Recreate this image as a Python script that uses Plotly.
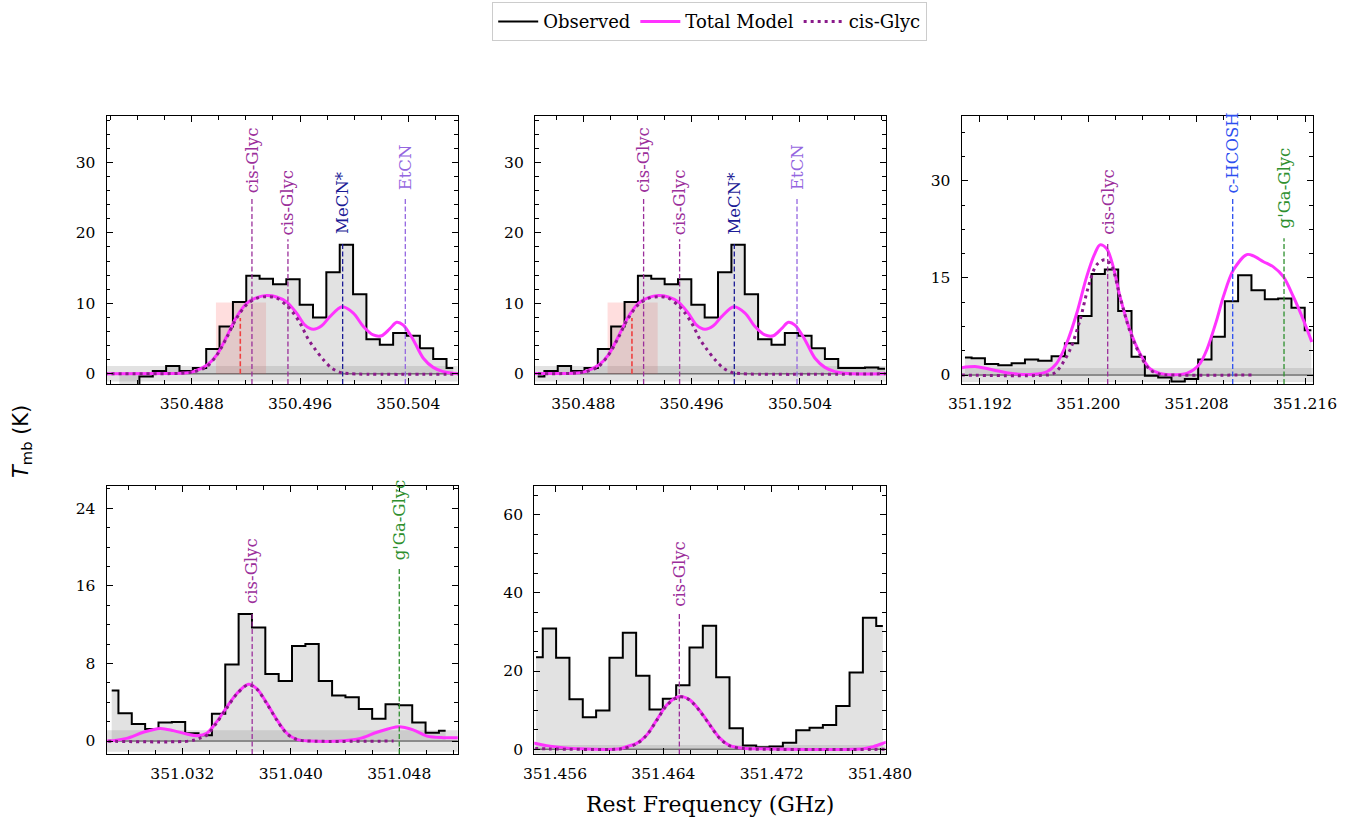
import plotly.graph_objects as go

W, H = 1356, 826

# ---------------- observed spectra (channel centre GHz, T_mb K) ----------------
# window around 350.49 GHz (shown in panels 1 and 2)
freq_A = [350.48266, 350.48364, 350.48463, 350.48562, 350.48660, 350.48759, 350.48858,
          350.48956, 350.49055, 350.49154, 350.49252, 350.49351, 350.49450, 350.49548,
          350.49647, 350.49745, 350.49844, 350.49943, 350.50041, 350.50140, 350.50239,
          350.50337, 350.50436, 350.50535, 350.50633, 350.50732, 350.50831, 350.50929,
          350.51028]
obs_A = [-2.0, -2.0, -0.4, 0.4, 1.1, 0.4, 0.8, 3.5, 6.7, 10.2, 13.9, 13.5, 12.7, 13.4,
         9.8, 8.0, 14.4, 18.3, 11.3, 4.9, 4.1, 5.8, 5.4, 3.6, 2.1, 0.8, 0.8, 0.9, 0.7]

# window around 351.20 GHz
freq_B = [351.19089, 351.19187, 351.19286, 351.19384, 351.19483, 351.19581, 351.19679,
          351.19778, 351.19876, 351.19975, 351.20073, 351.20171, 351.20270, 351.20368,
          351.20467, 351.20565, 351.20663, 351.20762, 351.20860, 351.20959, 351.21057,
          351.21155, 351.21254, 351.21352, 351.21451, 351.21549, 351.21647]
obs_B = [2.7, 2.6, 1.7, 1.5, 1.8, 2.4, 2.2, 2.9, 4.9, 9.1, 15.6, 16.3, 9.9, 2.8,
         -0.1, -0.4, -1.0, -0.6, 2.4, 5.9, 11.4, 15.4, 13.1, 11.7, 11.8, 10.4, 6.9]

# window around 351.04 GHz
freq_C = [351.02679, 351.02778, 351.02876, 351.02975, 351.03073, 351.03172, 351.03270,
          351.03369, 351.03467, 351.03566, 351.03664, 351.03763, 351.03861, 351.03960,
          351.04058, 351.04157, 351.04255, 351.04354, 351.04452, 351.04551, 351.04649,
          351.04748, 351.04846, 351.04945, 351.05043, 351.05142]
obs_C = [5.2, 2.85, 1.75, 1.24, 1.9, 1.95, 0.8, 0.6, 2.8, 7.9, 13.1, 11.7, 6.9, 6.2,
         9.8, 10.0, 6.2, 4.7, 4.5, 3.3, 2.3, 3.8, 3.7, 1.9, 0.85, 1.05]

# window around 351.47 GHz
freq_D = [351.45460, 351.45559, 351.45657, 351.45756, 351.45854, 351.45953, 351.46051,
          351.46150, 351.46248, 351.46347, 351.46445, 351.46544, 351.46642, 351.46741,
          351.46839, 351.46938, 351.47036, 351.47135, 351.47233, 351.47332, 351.47430,
          351.47529, 351.47627, 351.47726, 351.47824, 351.47923, 351.48021]
obs_D = [23.5, 30.9, 23.4, 12.8, 8.2, 9.9, 23.4, 29.8, 18.8, 10.2, 12.9, 16.4, 26.0,
         31.6, 18.4, 5.4, 1.0, 0.5, 0.7, 1.7, 4.9, 5.5, 6.2, 11.1, 19.6, 33.6, 31.5]

# ---------------- model curves ----------------
tot_A_f = [350.4800, 350.4860, 350.48714, 350.48812, 350.48911, 350.48984, 350.49058,
           350.49132, 350.49206, 350.49280, 350.49354, 350.49427, 350.49501, 350.49575,
           350.49637, 350.49698, 350.49760, 350.49821, 350.49912, 350.49994, 350.50068,
           350.50141, 350.50203, 350.50264, 350.50314, 350.50363, 350.50437, 350.50511,
           350.50584, 350.50658, 350.50757, 350.5110]
tot_A_v = [0.0, 0.02, 0.05, 0.3, 1.2, 2.65, 5.25, 8.1, 10.0, 10.8, 11.1, 10.9, 10.2, 8.6,
           6.9, 6.3, 6.8, 8.1, 9.5, 8.6, 6.7, 5.5, 5.4, 6.4, 7.3, 6.9, 4.8, 2.2, 0.9, 0.3,
           0.02, 0.0]
cis_A_f = [350.4800, 350.4860, 350.48714, 350.48812, 350.48911, 350.48984, 350.49058,
           350.49132, 350.49206, 350.49280, 350.49354, 350.49427, 350.49501, 350.49551,
           350.49600, 350.49661, 350.49711, 350.49772, 350.49834, 350.49895, 350.49969,
           350.5110]
cis_A_v = [0.0, 0.01, 0.05, 0.25, 1.0, 2.6, 5.1, 7.9, 9.8, 10.7, 10.95, 10.75, 9.7, 8.6,
           7.2, 4.9, 3.5, 2.0, 0.8, 0.2, 0.0, 0.0]

tot_B_f = [351.19065, 351.19176, 351.19298, 351.19422, 351.19594, 351.19693, 351.19766,
           351.19840, 351.19914, 351.19988, 351.20049, 351.20086, 351.20136, 351.20184,
           351.20234, 351.20308, 351.20382, 351.20455, 351.20529, 351.20628, 351.20726,
           351.20775, 351.20825, 351.20874, 351.20948, 351.20997, 351.21071, 351.21170,
           351.21219, 351.21293, 351.21366, 351.21440, 351.21514, 351.21588, 351.21650]
tot_B_v = [1.13, 1.29, 0.77, 0.26, 0.1, 0.5, 1.8, 4.9, 9.5, 15.2, 18.8, 20.1, 19.5, 16.7,
           12.1, 6.9, 3.3, 1.0, 0.26, 0.05, 0.26, 0.77, 1.8, 3.86, 8.5, 12.1, 16.2, 18.6,
           18.4, 17.5, 16.7, 15.2, 12.1, 8.5, 5.1]
cis_B_f = [351.19065, 351.19693, 351.19750, 351.19791, 351.19865, 351.19939, 351.20000,
           351.20061, 351.20123, 351.20172, 351.20234, 351.20308, 351.20382, 351.20455,
           351.20529, 351.20600, 351.21206]
cis_B_v = [0.0, 0.0, 0.3, 1.2, 3.9, 8.5, 13.6, 17.0, 17.8, 16.8, 12.1, 6.7, 3.1, 0.8,
           0.1, 0.0, 0.0]

tot_C_f = [351.02600, 351.02653, 351.02789, 351.02912, 351.03035, 351.03134, 351.03232,
           351.03306, 351.03380, 351.03454, 351.03528, 351.03602, 351.03687, 351.03749,
           351.03823, 351.03897, 351.03971, 351.04045, 351.04143, 351.04389, 351.04512,
           351.04636, 351.04795, 351.04906, 351.05005, 351.05127, 351.05234]
tot_C_v = [0.0, 0.0, 0.27, 0.9, 1.3, 1.07, 0.72, 0.55, 0.8, 2.0, 3.5, 4.9, 5.85, 5.4,
           3.9, 2.2, 0.8, 0.17, 0.0, 0.03, 0.27, 0.9, 1.48, 1.13, 0.5, 0.34, 0.34]
cis_C_f = [351.02600, 351.03250, 351.03331, 351.03380, 351.03454, 351.03528, 351.03602,
           351.03687, 351.03749, 351.03823, 351.03897, 351.03971, 351.04045, 351.04143,
           351.04758]
cis_C_v = [0.0, 0.0, 0.3, 0.6, 1.9, 3.4, 4.85, 5.8, 5.35, 3.85, 2.15, 0.75, 0.15, 0.0, 0.0]

tot_D_f = [351.45400, 351.45452, 351.45539, 351.45661, 351.45785, 351.46080, 351.46129,
           351.46203, 351.46277, 351.46351, 351.46425, 351.46499, 351.46548, 351.46597,
           351.46671, 351.46745, 351.46819, 351.46892, 351.46991, 351.47138, 351.47877,
           351.47951, 351.48037, 351.48100]
tot_D_v = [1.7, 1.53, 0.94, 0.43, 0.12, 0.12, 0.68, 1.53, 3.66, 7.5, 11.3, 13.3, 13.4,
           12.6, 9.8, 6.2, 2.8, 0.94, 0.26, 0.12, 0.12, 0.68, 1.7, 2.5]
cis_D_f = [351.45400, 351.45560, 351.46050, 351.46104, 351.46203, 351.46277, 351.46351,
           351.46425, 351.46499, 351.46548, 351.46597, 351.46671, 351.46745, 351.46819,
           351.46892, 351.46991, 351.47150, 351.48100]
cis_D_v = [0.3, 0.1, 0.0, 0.2, 1.4, 3.6, 7.4, 11.2, 13.2, 13.35, 12.5, 9.7, 6.1, 2.7,
           0.85, 0.2, 0.0, 0.0]

# ---------------- line identifications ----------------
lines_A = [(350.49245, "cis-Glyc"), (350.49511, "cis-Glyc"), (350.49915, "MeCN*"),
           (350.50378, "EtCN")]
lines_B = [(351.20143, "cis-Glyc"), (351.21066, "c-HCOSH"), (351.21445, "g'Ga-Glyc")]
lines_C = [(351.03715, "cis-Glyc"), (351.04800, "g'Ga-Glyc")]
lines_D = [(351.46518, "cis-Glyc")]

# highlighted range (panel 1/2)
hl_lo, hl_hi, hl_top = 350.48979, 350.49349, 10.1
hl_line_f, hl_line_top = 350.49159, 7.9

noise = 1.1   # noise band half-height (K)

# ---------------- styles ----------------
COL = {"cis-Glyc": "#9b2f9b", "MeCN*": "#1c1c96", "EtCN": "#9466e0",
       "c-HCOSH": "#2d4ff0", "g'Ga-Glyc": "#2e8f2e"}
MAG = "#ff33ff"
CISDOT = "#8a1a8a"
SERIF = "DejaVu Serif"
DASH = "5px,2.5px"
DOT = "3px,4px"

# level (axes fraction) of line top and text bottom for each label
lev_A = [(0.697, 0.708), (0.540, 0.550), (0.529, 0.555), (0.697, 0.720)]
lev_B = [(0.529, 0.552), (0.697, 0.708), (0.544, 0.575)]
lev_C = [(0.531, 0.557), (0.696, 0.718)]
lev_D = [(0.525, 0.547)]

panels = [
    dict(f=freq_A[0:26], o=obs_A[0:26], tf=tot_A_f, tv=tot_A_v, cf=cis_A_f, cv=cis_A_v,
         lines=lines_A, lev=lev_A, hl=True, box=(106.7, 457.7, 116, 384),
         xr=[350.48172, 350.50765], yr=[-1.46, 36.6], dy=10, my=2),
    dict(f=freq_A[2:29], o=obs_A[2:29], tf=tot_A_f, tv=tot_A_v, cf=cis_A_f, cv=cis_A_v,
         lines=lines_A, lev=lev_A, hl=True, box=(535.0, 885.7, 116, 384),
         xr=[350.48443, 350.51033], yr=[-1.46, 36.6], dy=10, my=2),
    dict(f=freq_B, o=obs_B, tf=tot_B_f, tv=tot_B_v, cf=cis_B_f, cv=cis_B_v,
         lines=lines_B, lev=lev_B, hl=False, box=(961.7, 1313.0, 116, 384),
         xr=[351.19065, 351.21659], yr=[-1.39, 40.0], dy=15, my=3.75),
    dict(f=freq_C, o=obs_C, tf=tot_C_f, tv=tot_C_v, cf=cis_C_f, cv=cis_C_v,
         lines=lines_C, lev=lev_C, hl=False, box=(106.7, 457.7, 486, 754),
         xr=[351.02642, 351.05231], yr=[-1.34, 26.3], dy=8, my=2),
    dict(f=freq_D, o=obs_D, tf=tot_D_f, tv=tot_D_v, cf=cis_D_f, cv=cis_D_v,
         lines=lines_D, lev=lev_D, hl=False, box=(534.3, 885.7, 486, 754),
         xr=[351.45447, 351.48042], yr=[-1.2, 67.3], dy=20, my=5),
]

fig = go.Figure()
shapes, annos = [], []
layout = {}

for i, p in enumerate(panels):
    n = i + 1
    xa = "x" if n == 1 else f"x{n}"
    ya = "y" if n == 1 else f"y{n}"
    xk = "xaxis" if n == 1 else f"xaxis{n}"
    yk = "yaxis" if n == 1 else f"yaxis{n}"
    x0, x1, yt, yb = p["box"]
    first = (n == 1)

    # fill under observed spectrum
    fig.add_trace(go.Scatter(x=p["f"], y=p["o"], mode="lines", line=dict(width=0, shape="hvh"),
                             fill="tozeroy", fillcolor="rgba(140,140,140,0.25)",
                             hoverinfo="skip", showlegend=False, xaxis=xa, yaxis=ya))
    fig.add_trace(go.Scatter(x=p["f"], y=p["o"], mode="lines", name="Observed",
                             line=dict(color="black", width=2, shape="hvh"),
                             showlegend=first, xaxis=xa, yaxis=ya))
    fig.add_trace(go.Scatter(x=p["tf"], y=p["tv"], mode="lines", name="Total Model",
                             line=dict(color=MAG, width=3, shape="spline", smoothing=0.9),
                             showlegend=first, xaxis=xa, yaxis=ya))
    fig.add_trace(go.Scatter(x=p["cf"], y=p["cv"], mode="lines", name="cis-Glyc",
                             line=dict(color=CISDOT, width=3, dash=DOT, shape="spline",
                                       smoothing=0.9),
                             showlegend=first, xaxis=xa, yaxis=ya))

    # noise band and zero line
    shapes.append(dict(type="rect", xref=f"{xa} domain", yref=ya, x0=0, x1=1,
                       y0=-noise, y1=noise, fillcolor="rgba(140,140,140,0.25)",
                       line=dict(width=0), layer="below"))
    shapes.append(dict(type="line", xref=f"{xa} domain", yref=ya, x0=0, x1=1, y0=0, y1=0,
                       line=dict(color="#6e6e6e", width=1.5), layer="below"))
    if p["hl"]:
        shapes.append(dict(type="rect", xref=xa, yref=ya, x0=hl_lo, x1=hl_hi, y0=0,
                           y1=hl_top, fillcolor="rgba(255,60,60,0.17)", line=dict(width=0),
                           layer="below"))
        shapes.append(dict(type="line", xref=xa, yref=ya, x0=hl_line_f, x1=hl_line_f,
                           y0=0, y1=hl_line_top,
                           line=dict(color="#f04040", width=1.6, dash=DASH)))
    for (lf, lab), (lt, tb) in zip(p["lines"], p["lev"]):
        c = COL[lab]
        shapes.append(dict(type="line", xref=xa, yref=f"{ya} domain", x0=lf, x1=lf, y0=0,
                           y1=lt, line=dict(color=c, width=1.3, dash=DASH)))
        annos.append(dict(x=lf, y=tb, xref=xa, yref=f"{ya} domain", text=lab,
                          textangle=-90, showarrow=False, xanchor="center",
                          yanchor="bottom", font=dict(family=SERIF, size=16.5, color=c),
                          borderpad=0))

    axcommon = dict(showline=True, linecolor="black", linewidth=1.3, mirror="allticks",
                    ticks="inside", ticklen=6, tickwidth=1.1, tickcolor="black",
                    showgrid=False, zeroline=False, automargin=False,
                    tickfont=dict(family=SERIF, size=15.5, color="black"))
    layout[xk] = dict(axcommon, domain=[x0 / W, x1 / W], range=p["xr"], anchor=ya,
                      dtick=0.008, tick0=350.000, tickformat=".3f", ticklabelstandoff=5,
                      minor=dict(dtick=0.002, ticks="inside", ticklen=3.5, tickwidth=1,
                                 tickcolor="black"))
    layout[yk] = dict(axcommon, domain=[1 - yb / H, 1 - yt / H], range=p["yr"], anchor=xa,
                      dtick=p["dy"], tick0=0, ticklabelstandoff=7,
                      minor=dict(dtick=p["my"], ticks="inside", ticklen=3.5, tickwidth=1,
                                 tickcolor="black"))

annos.append(dict(x=710 / W, y=1 - 804 / H, xref="paper", yref="paper",
                  xanchor="center", yanchor="middle",
                  text="Rest Frequency (GHz)", showarrow=False,
                  font=dict(family=SERIF, size=22, color="black")))
annos.append(dict(x=22 / W, y=1 - 442 / H, xref="paper", yref="paper",
                  xanchor="center", yanchor="middle",
                  text="<i>T</i><sub>mb</sub> (K)", textangle=-90, showarrow=False,
                  font=dict(family="DejaVu Sans", size=21, color="black")))

fig.update_layout(
    width=W, height=H, margin=dict(l=0, r=0, t=0, b=0, autoexpand=False),
    paper_bgcolor="white", plot_bgcolor="white",
    shapes=shapes, annotations=annos,
    legend=dict(orientation="h", x=709.5 / W, xanchor="center", y=1 - 2 / H,
                yanchor="top", bordercolor="#cccccc", borderwidth=1.2,
                bgcolor="white", font=dict(family=SERIF, size=18, color="black"),
                itemwidth=40),
    **layout,
)

fig.write_html("out.html")
